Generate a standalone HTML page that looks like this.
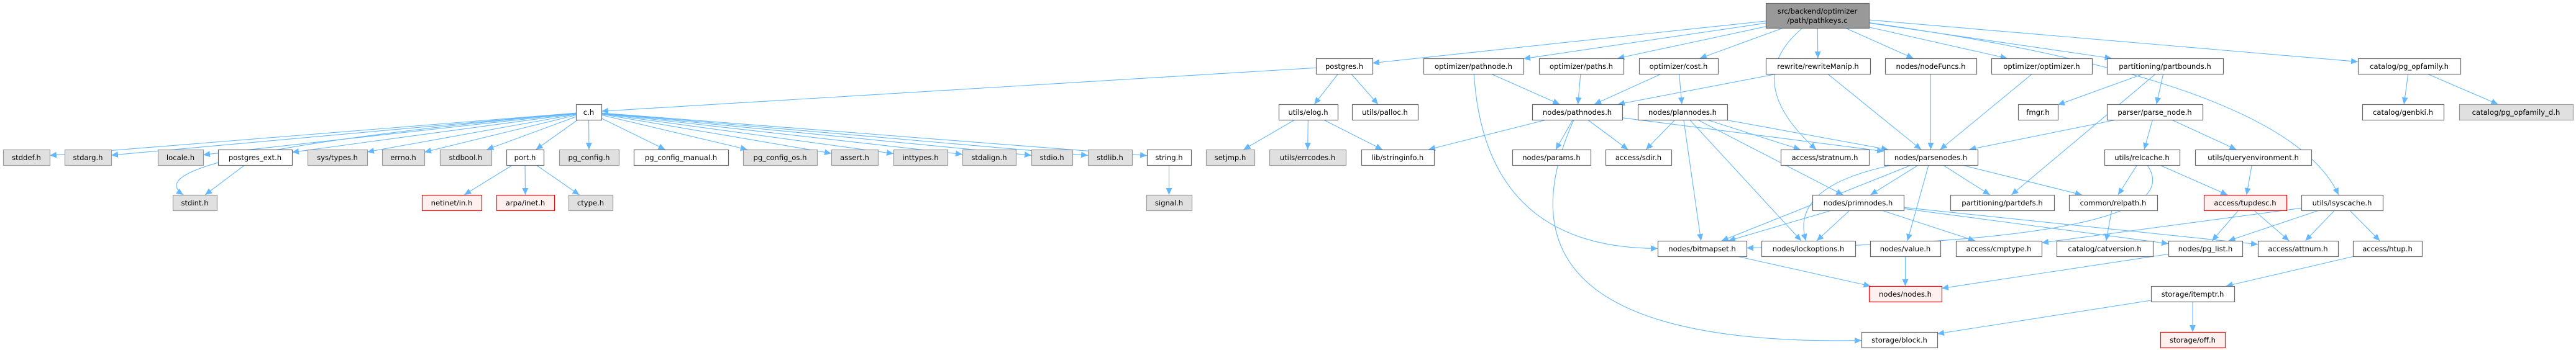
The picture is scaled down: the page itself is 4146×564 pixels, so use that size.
<!DOCTYPE html>
<html><head><meta charset="utf-8"><style>
html,body{margin:0;padding:0;background:#fff;width:4146px;height:564px;overflow:hidden}
svg text{font-family:"DejaVu Sans","Liberation Sans",sans-serif;font-size:11.6px;fill:#000;text-anchor:middle}
</style></head><body>
<svg id="s" width="4146" height="564" xmlns="http://www.w3.org/2000/svg">
<defs><marker id="a" viewBox="0 0 10 10" refX="10" refY="5" markerWidth="11" markerHeight="11" markerUnits="userSpaceOnUse" orient="auto"><path d="M0,0.5 L10,5 L0,9.5 z" fill="#63b8ff"/></marker></defs>
<g id="edges" fill="none" stroke="#63b8ff" stroke-width="1.1"></g>
<g id="nodes"></g>
</svg>
<div id="src" style="display:none">
<b data-i="main" data-x="2842,3008" data-y="5,45" data-k="m">src/backend/optimizer|/path/pathkeys.c</b>
<b data-i="postgres" data-x="2118,2209" data-r="2">postgres.h</b>
<b data-i="pathnode" data-x="2291,2452" data-r="2">optimizer/pathnode.h</b>
<b data-i="paths" data-x="2477,2613" data-r="2">optimizer/paths.h</b>
<b data-i="cost" data-x="2638,2765" data-r="2">optimizer/cost.h</b>
<b data-i="rewrite" data-x="2842,3010" data-r="2">rewrite/rewriteManip.h</b>
<b data-i="nodefuncs" data-x="3034,3181" data-r="2">nodes/nodeFuncs.h</b>
<b data-i="optimizer" data-x="3205,3367" data-r="2">optimizer/optimizer.h</b>
<b data-i="partbounds" data-x="3391,3578" data-r="2">partitioning/partbounds.h</b>
<b data-i="opfamily" data-x="3795,3960" data-r="2">catalog/pg_opfamily.h</b>
<b data-i="c" data-x="927,968" data-r="3">c.h</b>
<b data-i="elog" data-x="2058,2153" data-r="3">utils/elog.h</b>
<b data-i="palloc" data-x="2176,2282" data-r="3">utils/palloc.h</b>
<b data-i="pathnodes" data-x="2466,2611" data-r="3">nodes/pathnodes.h</b>
<b data-i="plannodes" data-x="2636,2780" data-r="3">nodes/plannodes.h</b>
<b data-i="fmgr" data-x="3248,3312" data-r="3">fmgr.h</b>
<b data-i="parse_node" data-x="3391,3545" data-r="3">parser/parse_node.h</b>
<b data-i="genbki" data-x="3802,3933" data-r="3">catalog/genbki.h</b>
<b data-i="opfamily_d" data-x="3958,4141" data-r="3" data-k="g">catalog/pg_opfamily_d.h</b>
<b data-i="stddef" data-x="5,80" data-r="4" data-k="g">stddef.h</b>
<b data-i="stdarg" data-x="104,179" data-r="4" data-k="g">stdarg.h</b>
<b data-i="locale" data-x="254,327" data-r="4" data-k="g">locale.h</b>
<b data-i="postgres_ext" data-x="351,470" data-r="4">postgres_ext.h</b>
<b data-i="systypes" data-x="495,591" data-r="4" data-k="g">sys/types.h</b>
<b data-i="errno" data-x="615,683" data-r="4" data-k="g">errno.h</b>
<b data-i="stdbool" data-x="708,791" data-r="4" data-k="g">stdbool.h</b>
<b data-i="port" data-x="815,875" data-r="4">port.h</b>
<b data-i="pgconfig" data-x="900,996" data-r="4" data-k="g">pg_config.h</b>
<b data-i="pgcm" data-x="1020,1172" data-r="4">pg_config_manual.h</b>
<b data-i="pgcos" data-x="1196,1315" data-r="4" data-k="g">pg_config_os.h</b>
<b data-i="assert" data-x="1338,1413" data-r="4" data-k="g">assert.h</b>
<b data-i="inttypes" data-x="1438,1525" data-r="4" data-k="g">inttypes.h</b>
<b data-i="stdalign" data-x="1549,1635" data-r="4" data-k="g">stdalign.h</b>
<b data-i="stdio" data-x="1660,1726" data-r="4" data-k="g">stdio.h</b>
<b data-i="stdlib" data-x="1751,1822" data-r="4" data-k="g">stdlib.h</b>
<b data-i="string" data-x="1846,1917" data-r="4">string.h</b>
<b data-i="setjmp" data-x="1941,2019" data-r="4" data-k="g">setjmp.h</b>
<b data-i="errcodes" data-x="2043,2166" data-r="4" data-k="g">utils/errcodes.h</b>
<b data-i="stringinfo" data-x="2191,2308" data-r="4">lib/stringinfo.h</b>
<b data-i="params" data-x="2434,2560" data-r="4">nodes/params.h</b>
<b data-i="sdir" data-x="2584,2690" data-r="4">access/sdir.h</b>
<b data-i="stratnum" data-x="2866,3008" data-r="4">access/stratnum.h</b>
<b data-i="parsenodes" data-x="3032,3183" data-r="4">nodes/parsenodes.h</b>
<b data-i="relcache" data-x="3387,3508" data-r="4">utils/relcache.h</b>
<b data-i="queryenv" data-x="3533,3720" data-r="4">utils/queryenvironment.h</b>
<b data-i="stdint" data-x="278,349" data-r="5" data-k="g">stdint.h</b>
<b data-i="netinet" data-x="679,775" data-r="5" data-k="r">netinet/in.h</b>
<b data-i="arpa" data-x="799,892" data-r="5" data-k="r">arpa/inet.h</b>
<b data-i="ctype" data-x="915,986" data-r="5" data-k="g">ctype.h</b>
<b data-i="signal" data-x="1845,1918" data-r="5" data-k="g">signal.h</b>
<b data-i="primnodes" data-x="2917,3064" data-r="5">nodes/primnodes.h</b>
<b data-i="partdefs" data-x="3139,3306" data-r="5">partitioning/partdefs.h</b>
<b data-i="relpath" data-x="3330,3472" data-r="5">common/relpath.h</b>
<b data-i="tupdesc" data-x="3547,3680" data-r="5" data-k="r">access/tupdesc.h</b>
<b data-i="lsyscache" data-x="3704,3835" data-r="5">utils/lsyscache.h</b>
<b data-i="bitmapset" data-x="2668,2811" data-r="6">nodes/bitmapset.h</b>
<b data-i="lockoptions" data-x="2835,2986" data-r="6">nodes/lockoptions.h</b>
<b data-i="value" data-x="3010,3123" data-r="6">nodes/value.h</b>
<b data-i="cmptype" data-x="3148,3286" data-r="6">access/cmptype.h</b>
<b data-i="catversion" data-x="3310,3465" data-r="6">catalog/catversion.h</b>
<b data-i="pg_list" data-x="3490,3609" data-r="6">nodes/pg_list.h</b>
<b data-i="attnum" data-x="3634,3763" data-r="6">access/attnum.h</b>
<b data-i="htup" data-x="3787,3898" data-r="6">access/htup.h</b>
<b data-i="nodes" data-x="3008,3125" data-r="7" data-k="r">nodes/nodes.h</b>
<b data-i="itemptr" data-x="3462,3596" data-r="7">storage/itemptr.h</b>
<b data-i="block" data-x="2996,3118" data-r="8">storage/block.h</b>
<b data-i="off" data-x="3477,3581" data-r="8" data-k="r">storage/off.h</b>
</div>
<script>
var NS="http://www.w3.org/2000/svg",N={},G=document.getElementById('nodes'),E=document.getElementById('edges');
var RY={2:94,3:168,4:241,5:314,6:388,7:461,8:535};
function el(t,a,p){var e=document.createElementNS(NS,t);for(var k in a)e.setAttribute(k,a[k]);p.appendChild(e);return e;}
document.querySelectorAll('#src b').forEach(function(b){
 var xs=b.dataset.x.split(',').map(Number),y1,y2;
 if(b.dataset.y){var ys=b.dataset.y.split(',').map(Number);y1=ys[0];y2=ys[1];}else{y1=RY[b.dataset.r];y2=y1+25;}
 var k=b.dataset.k||'w',fill='#fff',st='#666';
 if(k=='g'){fill='#e0e0e0';st='#999';}if(k=='r'){fill='#fff0f0';st='#f00';}if(k=='m'){fill='#999';st='#666';}
 el('rect',{x:xs[0]+.5,y:y1+.5,width:xs[1]-xs[0],height:y2-y1,fill:fill,stroke:st,'stroke-width':1.2},G);
 var lines=b.textContent.split('|'),cx=(xs[0]+xs[1])/2;
 if(lines.length==1){var t=el('text',{x:cx,y:y1+17},G);t.textContent=lines[0];}
 else{lines.forEach(function(l,i){var t=el('text',{x:cx,y:y1+17+i*15},G);t.textContent=l;});}
 N[b.dataset.i]={cx:cx,cy:(y1+y2)/2,hw:(xs[1]-xs[0])/2,hh:(y2-y1)/2};
});
function clip(n,dx,dy){var L=Math.hypot(dx,dy);dx/=L;dy/=L;var t=Math.min(dx?n.hw/Math.abs(dx):1e9,dy?n.hh/Math.abs(dy):1e9);return [n.cx+dx*t,n.cy+dy*t];}
var ED=[['main','postgres'],['main','pathnode'],['main','paths'],['main','cost'],['main','stratnum',[2800,130]],['main','rewrite'],['main','nodefuncs'],['main','optimizer'],['main','partbounds'],['main','lsyscache',[3680,130]],['main','opfamily'],
['postgres','c'],['postgres','elog'],['postgres','palloc'],
['c','stddef'],['c','stdarg'],['c','locale'],['c','postgres_ext'],['c','systypes'],['c','errno'],['c','stdbool'],['c','port'],['c','pgconfig'],['c','pgcm'],['c','pgcos'],['c','assert'],['c','inttypes'],['c','stdalign'],['c','stdio'],['c','stdlib'],['c','string'],['c','stdint',[200,250]],
['postgres_ext','stdint'],['port','netinet'],['port','arpa'],['port','ctype'],['string','signal'],['elog','setjmp'],['elog','errcodes'],['elog','stringinfo'],
['pathnode','pathnodes'],['pathnode','bitmapset',[2390,400]],['paths','pathnodes'],['cost','pathnodes'],['cost','plannodes'],
['rewrite','pathnodes'],['rewrite','parsenodes'],['nodefuncs','parsenodes'],['optimizer','parsenodes'],
['partbounds','fmgr'],['partbounds','partdefs'],['partbounds','parse_node'],
['pathnodes','stringinfo'],['pathnodes','params'],['pathnodes','sdir'],['pathnodes','parsenodes'],['pathnodes','block',[2370,560]],
['plannodes','sdir'],['plannodes','bitmapset'],['plannodes','stratnum'],['plannodes','parsenodes'],['plannodes','primnodes'],['plannodes','lockoptions'],
['parse_node','parsenodes'],['parse_node','relcache'],['parse_node','queryenv'],
['relcache','relpath'],['relcache','tupdesc'],['relcache','bitmapset',[3540,390]],['queryenv','tupdesc'],
['parsenodes','bitmapset'],['parsenodes','lockoptions',[2880,300]],['parsenodes','primnodes'],['parsenodes','value'],['parsenodes','partdefs'],['parsenodes','relpath'],
['primnodes','bitmapset'],['primnodes','lockoptions'],['primnodes','cmptype'],['primnodes','pg_list'],['primnodes','attnum'],
['relpath','catversion'],['tupdesc','pg_list'],['tupdesc','attnum'],
['lsyscache','attnum'],['lsyscache','htup'],['lsyscache','pg_list'],['lsyscache','cmptype'],
['htup','itemptr'],['itemptr','block'],['itemptr','off'],['value','nodes'],['bitmapset','nodes'],['pg_list','nodes'],
['opfamily','genbki'],['opfamily','opfamily_d']];
ED.forEach(function(e){var a=N[e[0]],b=N[e[1]];if(!a||!b)return;var d;
 if(e[2]){var c=e[2];var p=clip(a,c[0]-a.cx,c[1]-a.cy),q=clip(b,c[0]-b.cx,c[1]-b.cy);d='M'+p+' Q'+c+' '+q;}
 else{var p=clip(a,b.cx-a.cx,b.cy-a.cy),q=clip(b,a.cx-b.cx,a.cy-b.cy);d='M'+p+' L'+q;}
 el('path',{d:d,'marker-end':'url(#a)'},E);});
</script>
</body></html>
